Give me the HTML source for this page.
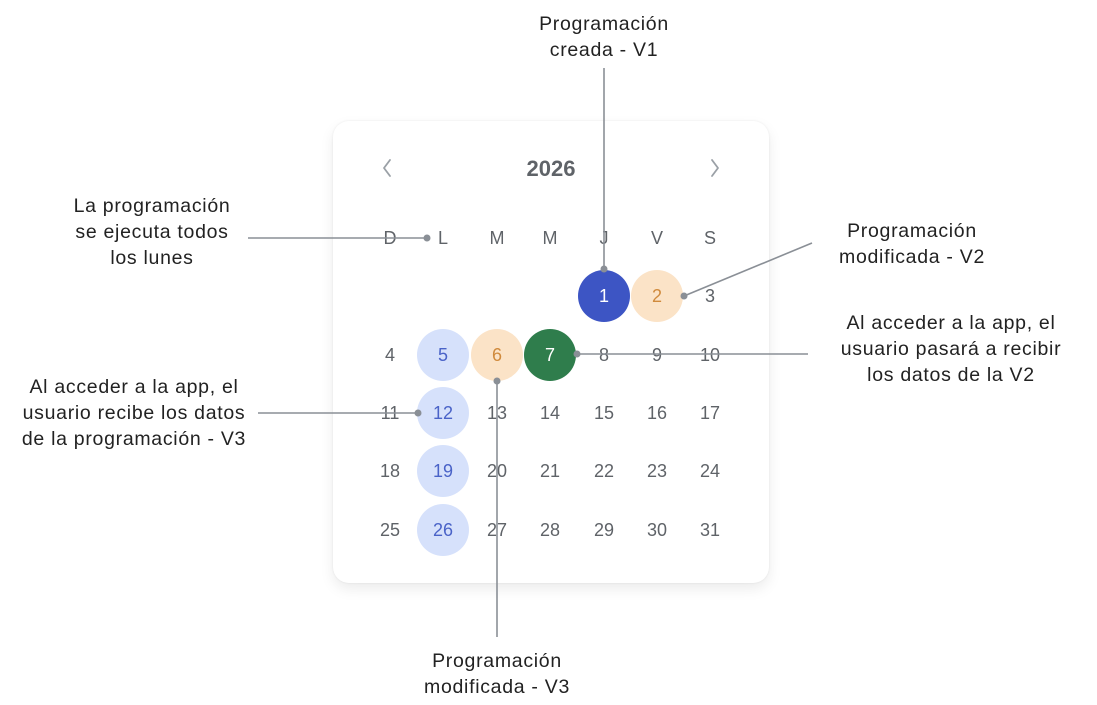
<!DOCTYPE html>
<html><head><meta charset="utf-8"><style>
body{margin:0;width:1097px;height:705px;background:#fff;position:relative;overflow:hidden;font-family:"Liberation Sans",sans-serif}
.card{position:absolute;left:333px;top:121px;width:436px;height:462px;border-radius:16px;background:#fff;box-shadow:0 6px 14px rgba(0,0,0,.08),0 0 2px rgba(0,0,0,.08)}
.lbl{position:absolute;text-align:center;font-size:19.5px;letter-spacing:0.7px;line-height:26px;color:#222;white-space:nowrap;transform:translateX(-50%)}
</style></head><body>
<div class="card"></div>
<svg width="1097" height="705" style="position:absolute;left:0;top:0" font-family="Liberation Sans, sans-serif">
<g fill="none" stroke="#9aa0a6" stroke-width="1.8" stroke-linecap="round" stroke-linejoin="round">
<polyline points="390,160 384,168 390,176"/><polyline points="712,160 718,168 712,176"/>
</g>
<text x="551" y="176" text-anchor="middle" font-size="22" font-weight="bold" fill="#5f6368">2026</text>
<g font-size="18" fill="#5f6368" text-anchor="middle">
<text x="390" y="244">D</text><text x="443" y="244">L</text><text x="497" y="244">M</text><text x="550" y="244">M</text><text x="604" y="244">J</text><text x="657" y="244">V</text><text x="710" y="244">S</text>
</g>
<circle cx="604" cy="296" r="26" fill="#3d55c4"/>
<circle cx="657" cy="296" r="26" fill="#fbe3c7"/>
<circle cx="443" cy="355" r="26" fill="#d6e1fb"/>
<circle cx="497" cy="355" r="26" fill="#fbe3c7"/>
<circle cx="550" cy="355" r="26" fill="#2f7d4c"/>
<circle cx="443" cy="413" r="26" fill="#d6e1fb"/>
<circle cx="443" cy="471" r="26" fill="#d6e1fb"/>
<circle cx="443" cy="530" r="26" fill="#d6e1fb"/>
<g font-size="18" text-anchor="middle" fill="#5f6368">
<text x="604" y="302" fill="#fff">1</text><text x="657" y="302" fill="#d08a3c">2</text><text x="710" y="302">3</text>
<text x="390" y="361">4</text><text x="443" y="361" fill="#4a63c8">5</text><text x="497" y="361" fill="#d08a3c">6</text><text x="550" y="361" fill="#fff">7</text><text x="604" y="361">8</text><text x="657" y="361">9</text><text x="710" y="361">10</text>
<text x="390" y="419">11</text><text x="443" y="419" fill="#4a63c8">12</text><text x="497" y="419">13</text><text x="550" y="419">14</text><text x="604" y="419">15</text><text x="657" y="419">16</text><text x="710" y="419">17</text>
<text x="390" y="477">18</text><text x="443" y="477" fill="#4a63c8">19</text><text x="497" y="477">20</text><text x="550" y="477">21</text><text x="604" y="477">22</text><text x="657" y="477">23</text><text x="710" y="477">24</text>
<text x="390" y="536">25</text><text x="443" y="536" fill="#4a63c8">26</text><text x="497" y="536">27</text><text x="550" y="536">28</text><text x="604" y="536">29</text><text x="657" y="536">30</text><text x="710" y="536">31</text>
</g>
<g stroke="#8a8f96" stroke-width="1.6">
<line x1="248" y1="238" x2="427" y2="238"/>
<line x1="604" y1="68" x2="604" y2="269"/>
<line x1="684" y1="296" x2="812" y2="243"/>
<line x1="577" y1="354" x2="808" y2="354"/>
<line x1="258" y1="413" x2="418" y2="413"/>
<line x1="497" y1="381" x2="497" y2="637"/>
</g>
<g fill="#8a8f96">
<circle cx="427" cy="238" r="3.5"/><circle cx="604" cy="269" r="3.5"/><circle cx="684" cy="296" r="3.5"/><circle cx="577" cy="354" r="3.5"/><circle cx="418" cy="413" r="3.5"/><circle cx="497" cy="381" r="3.5"/>
</g>
</svg>
<div class="lbl" style="left:604px;top:11px">Programación<br>creada - V1</div>
<div class="lbl" style="left:152px;top:193px">La programación<br>se ejecuta todos<br>los lunes</div>
<div class="lbl" style="left:912px;top:218px">Programación<br>modificada - V2</div>
<div class="lbl" style="left:951px;top:310px">Al acceder a la app, el<br>usuario pasará a recibir<br>los datos de la V2</div>
<div class="lbl" style="left:134px;top:374px">Al acceder a la app, el<br>usuario recibe los datos<br>de la programación - V3</div>
<div class="lbl" style="left:497px;top:648px">Programación<br>modificada - V3</div>
</body></html>
